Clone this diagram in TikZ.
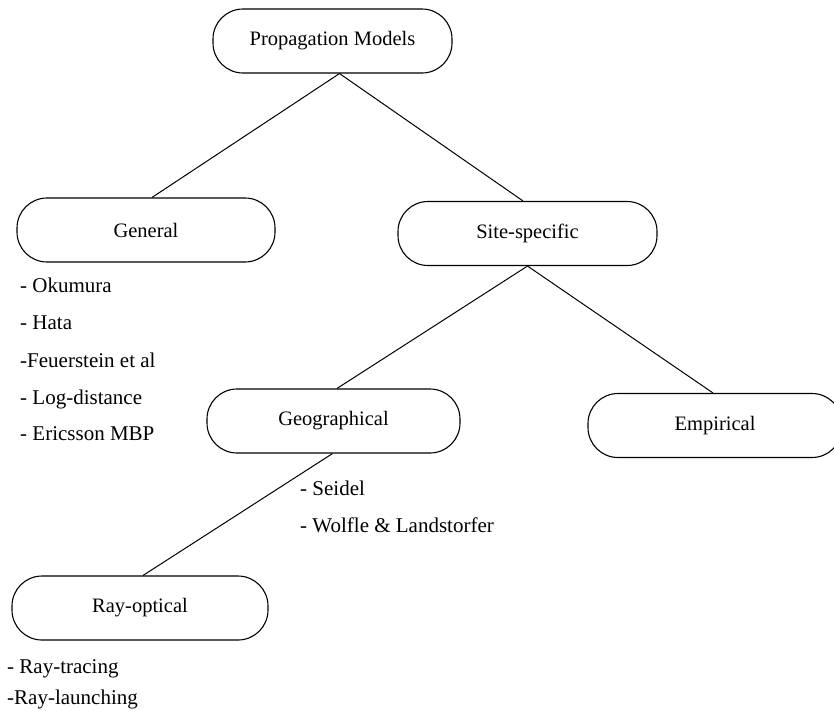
\documentclass[tikz,border=0pt]{standalone}
\usepackage{fontspec}
\setmainfont{Liberation Serif}
\begin{document}
\begin{tikzpicture}[x=1pt,y=-1pt,
  model/.style={draw, line width=1.1pt, rounded corners=30pt, minimum height=64pt,
    font=\fontsize{20.5}{24}\selectfont, inner sep=0pt},
  item/.style={anchor=base west, inner sep=0pt, font=\fontsize{21}{24}\selectfont},
  link/.style={line width=1pt}]
\useasboundingbox (0,0) rectangle (834,710);
\clip (0,0) rectangle (834,710);

% model categories
\node[model, minimum width=239pt] (prop) at (332.5,41) {Propagation Models};
\node[model, minimum width=258pt] (gen) at (146,230) {General};
\node[model, minimum width=259pt] (site) at (527.5,233.5) {Site-specific};
\node[model, minimum width=253pt] (geo) at (333.5,421) {Geographical};
\node[model, minimum width=254pt] (emp) at (715,425.5) {Empirical};
\node[model, minimum width=256pt] (ray) at (140,608) {Ray-optical};

% hierarchy
\coordinate (propfoot) at ([xshift=7pt]prop.south);
\draw[link] (propfoot) -- ([xshift=6pt]gen.north);
\draw[link] (propfoot) -- ([xshift=-4.5pt]site.north);
\draw[link] (site.south) -- ([xshift=3.5pt]geo.north);
\draw[link] (site.south) -- ([xshift=-2pt]emp.north);
\draw[link] ([xshift=-1pt]geo.south) -- ([xshift=3pt]ray.north);

% examples of general models
\node[item] (okumura) at (20,292) {- Okumura};
\node[item] (hata) at (20,329) {- Hata};
\node[item] (feuer) at (20,367) {-Feuerstein et al};
\node[item] (logd) at (20,404) {- Log-distance};
\node[item] (eric) at (20,440) {- Ericsson MBP};

% examples of geographical models
\node[item] (seidel) at (300,495) {- Seidel};
\node[item] (wolfle) at (300,532) {- Wolfle \& Landstorfer};

% examples of ray-optical models
\node[item] (tracing) at (7,673) {- Ray-tracing};
\node[item] (launch) at (7,704) {-Ray-launching};
\end{tikzpicture}
\end{document}
